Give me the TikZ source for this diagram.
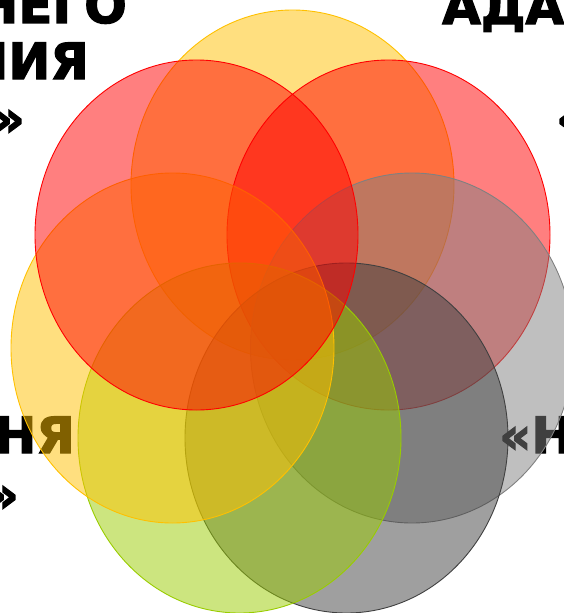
\documentclass[tikz,border=0pt]{standalone}
\usepackage{fontspec}
\setmainfont{DejaVu Sans}
\newfontfamily\hfont{DejaVu Sans}[BoldFeatures={FakeBold=2.5}]
\definecolor{cyel}{HTML}{FFC000}
\definecolor{cred}{HTML}{FF0000}
\definecolor{cgray}{HTML}{808080}
\definecolor{cdark}{HTML}{404040}
\definecolor{cgreen}{HTML}{99CC00}
\tikzset{
  lbl/.style={font=\hfont\fontsize{50}{58}\selectfont\bfseries, inner sep=0pt, text=black},
  petal/.style={fill opacity=0.5, line width=0.9pt},
}
\begin{document}
\begin{tikzpicture}[x=1pt,y=-1pt]
\useasboundingbox (0,0) rectangle (564,613);
\clip (0,0) rectangle (564,613);
% texts (behind)
\node[lbl, anchor=base east] (t1) at (127,23) {НЕГО};
\node[lbl, anchor=base east] (t2) at (89,79) {НИЯ};
\node[lbl, anchor=base east] (t3) at (25,136) {»};
\node[lbl, anchor=base west] (t4) at (442,24) {АДА};
\node[lbl, anchor=base west] (t5) at (556,136) {«};
\node[lbl, anchor=base east] (t6) at (75,453) {НЯ};
\node[lbl, anchor=base east] (t7) at (19,512) {»};
\node[lbl, anchor=base west] (t8) at (499,453) {«Н};
% circles
\draw[petal, draw=cyel, fill=cyel] (292.5,185) ellipse [x radius=161.5, y radius=175];
\draw[petal, draw=cred, fill=cred] (388.5,235) ellipse [x radius=161.5, y radius=175];
\draw[petal, draw=cgray, fill=cgray] (412,348) ellipse [x radius=161.5, y radius=175];
\draw[petal, draw=cdark, fill=cdark] (346.5,438) ellipse [x radius=161.5, y radius=175];
\draw[petal, draw=cgreen, fill=cgreen] (239.5,438) ellipse [x radius=161.5, y radius=175];
\draw[petal, draw=cyel, fill=cyel] (172.5,348) ellipse [x radius=161.5, y radius=175];
\draw[petal, draw=cred, fill=cred] (196.5,235) ellipse [x radius=161.5, y radius=175];
\end{tikzpicture}
\end{document}
